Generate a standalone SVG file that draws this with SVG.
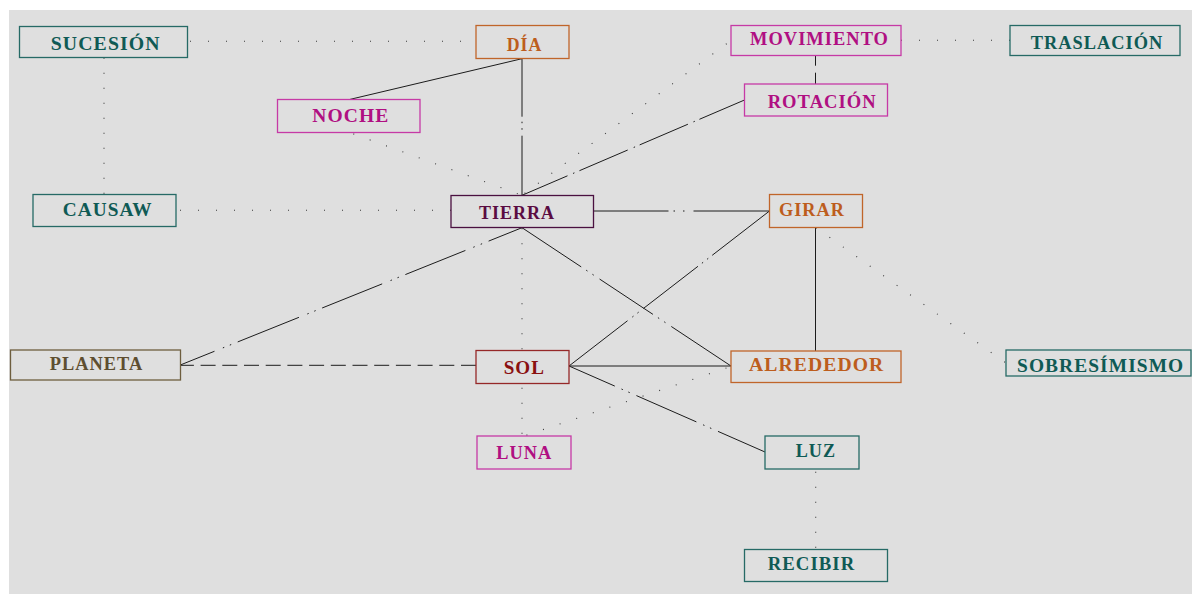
<svg xmlns="http://www.w3.org/2000/svg" width="1192" height="594" viewBox="0 0 1192 594">
<style>
.bg{fill:#dfdfdf}
.box{fill:none;stroke-width:1.3}
.lbl{font-family:"Liberation Serif","Times New Roman",serif;font-size:18px;font-weight:bold;letter-spacing:1px}
.teal rect{stroke:#266a66}.teal text{fill:#0f5a55}
.orng rect{stroke:#c0652a}.orng text{fill:#bd5d1d}
.mag rect{stroke:#c63aa6}.mag text{fill:#b00f82}
.tierra rect{stroke:#4a1040}.tierra text{fill:#5a0c42}
.sol rect{stroke:#962828}.sol text{fill:#8a1010}
.plan rect{stroke:#6e5e3e}.plan text{fill:#5e4e30}
.ln{fill:none;stroke:#1c1c1c;stroke-width:1}
.dot{fill:none;stroke:#3a3a3a;stroke-width:1.1}
</style>
<rect class="bg" x="9" y="10" width="1183" height="584"/>

<g id="connectors">
  <!-- dotted -->
  <line class="dot" x1="188" y1="41.3" x2="476" y2="41.3" stroke-dasharray="1 17" stroke-dashoffset="16"/>
  <line class="dot" x1="104" y1="57.7" x2="104" y2="194.3" stroke-dasharray="1 14"/>
  <line class="dot" x1="176" y1="210.3" x2="451" y2="210.3" stroke-dasharray="1 17" stroke-dashoffset="14"/>
  <line class="dot" x1="349" y1="132.3" x2="522" y2="195.3" stroke-dasharray="1 16.4" stroke-dashoffset="12.8"/>
  <line class="dot" x1="731" y1="40.5" x2="522" y2="195.3" stroke-dasharray="1 15.7" stroke-dashoffset="11.3"/>
  <line class="dot" x1="901" y1="40.3" x2="1010" y2="40.3" stroke-dasharray="1 17"/>
  <line class="dot" x1="522" y1="228.3" x2="522" y2="350" stroke-dasharray="1 14"/>
  <line class="dot" x1="522" y1="387.7" x2="522" y2="436" stroke-dasharray="1 14"/>
  <line class="dot" x1="731" y1="366.5" x2="524" y2="436" stroke-dasharray="1 16.5" stroke-dashoffset="12.7"/>
  <line class="dot" x1="816" y1="227.7" x2="1006" y2="363" stroke-dasharray="1 15.5"/>
  <line class="dot" x1="815.7" y1="471.7" x2="815.7" y2="549.5" stroke-dasharray="1 14"/>
  <!-- solid -->
  <line class="ln" x1="349.5" y1="99.5" x2="522" y2="58.7"/>
  <line class="ln" x1="815.5" y1="227.7" x2="815.5" y2="351"/>
  <line class="ln" x1="569" y1="366" x2="731" y2="366"/>
  <!-- dashed -->
  <line class="ln" x1="815.5" y1="55.7" x2="815.5" y2="84" stroke-dasharray="10 7 30"/>
  <line class="ln" x1="476" y1="365.3" x2="180.3" y2="365.3" stroke-dasharray="15 6.7"/>
  <!-- dash-dot-dot -->
  <line class="ln" x1="522" y1="58.7" x2="522" y2="195.3" stroke-dasharray="58 5 1.5 5 1.5 6 200"/>
  <line class="ln" x1="593.5" y1="211" x2="769.5" y2="211" stroke-dasharray="75 5 1.5 8 1.5 9 200"/>
  <line class="ln" x1="522" y1="195.3" x2="744.5" y2="100" stroke-dasharray="49.5 6 1.5 5.5 52.5 6.5 1.5 5 52.5 6 1.5 5 200"/>
  <line class="ln" x1="522" y1="227.7" x2="180.3" y2="365" stroke-dasharray="36 7 1.5 6.5 1.5 8.5 64.7 7 1.5 6 1.5 9 64.7 7 1.5 6 1.5 9 66 7 1.5 6 1.5 9 80"/>
  <line class="ln" x1="522" y1="227.7" x2="731" y2="366" stroke-dasharray="71 6 1.5 6 1.5 7 64 6 1.5 6 1.5 7 200"/>
  <line class="ln" x1="569" y1="366" x2="769.5" y2="211" stroke-dasharray="74 6 1.5 5 1.5 6 69 5 1.5 5 1.5 5 200"/>
  <line class="ln" x1="569" y1="366" x2="765" y2="452" stroke-dasharray="50 7.3 1.5 6 1.5 7.3 65.5 7.3 1.5 6 1.5 7.3 200"/>
</g>

<g id="n-sucesion" class="teal"><rect class="box" x="19.5" y="26.5" width="168" height="31"/><text class="lbl" x="50.7" y="50" textLength="110" lengthAdjust="spacingAndGlyphs">SUCESIÓN</text></g>
<g id="n-causaw" class="teal"><rect class="box" x="33" y="194.5" width="143" height="32"/><text class="lbl" x="62.7" y="216" textLength="90" lengthAdjust="spacingAndGlyphs">CAUSAW</text></g>
<g id="n-noche" class="mag"><rect class="box" x="277.5" y="99.5" width="142.5" height="33"/><text class="lbl" x="312.3" y="122.3" textLength="77" lengthAdjust="spacingAndGlyphs">NOCHE</text></g>
<g id="n-dia" class="orng"><rect class="box" x="476" y="25.5" width="93" height="33"/><text class="lbl" x="506.7" y="50.7" textLength="35.6" lengthAdjust="spacingAndGlyphs">DÍA</text></g>
<g id="n-movimiento" class="mag"><rect class="box" x="731" y="25.5" width="170" height="30"/><text class="lbl" x="750" y="45.3" textLength="139" lengthAdjust="spacingAndGlyphs">MOVIMIENTO</text></g>
<g id="n-traslacion" class="teal"><rect class="box" x="1010" y="25.5" width="170" height="30"/><text class="lbl" x="1030.7" y="48.7" textLength="132.6" lengthAdjust="spacingAndGlyphs">TRASLACIÓN</text></g>
<g id="n-rotacion" class="mag"><rect class="box" x="744.5" y="84" width="143" height="32"/><text class="lbl" x="767.7" y="108.3" textLength="109" lengthAdjust="spacingAndGlyphs">ROTACIÓN</text></g>
<g id="n-tierra" class="tierra"><rect class="box" x="451" y="195.5" width="142.5" height="32"/><text class="lbl" x="479" y="219" textLength="76" lengthAdjust="spacingAndGlyphs">TIERRA</text></g>
<g id="n-girar" class="orng"><rect class="box" x="769.5" y="194.5" width="93" height="33"/><text class="lbl" x="779" y="215.7" textLength="66" lengthAdjust="spacingAndGlyphs">GIRAR</text></g>
<g id="n-planeta" class="plan"><rect class="box" x="10.5" y="350" width="170" height="30"/><text class="lbl" x="49.7" y="370.3" textLength="93.6" lengthAdjust="spacingAndGlyphs">PLANETA</text></g>
<g id="n-sol" class="sol"><rect class="box" x="476" y="350.5" width="93" height="33"/><text class="lbl" x="503.7" y="374.3" textLength="41.3" lengthAdjust="spacingAndGlyphs">SOL</text></g>
<g id="n-alrededor" class="orng"><rect class="box" x="731" y="351" width="170" height="31.5"/><text class="lbl" x="749" y="370.7" textLength="135.3" lengthAdjust="spacingAndGlyphs">ALREDEDOR</text></g>
<g id="n-sobresimismo" class="teal"><rect class="box" x="1006" y="350" width="185" height="26"/><text class="lbl" x="1017" y="372.3" textLength="167.3" lengthAdjust="spacingAndGlyphs">SOBRESÍMISMO</text></g>
<g id="n-luna" class="mag"><rect class="box" x="477" y="436" width="94" height="33"/><text class="lbl" x="496.3" y="459.3" textLength="56" lengthAdjust="spacingAndGlyphs">LUNA</text></g>
<g id="n-luz" class="teal"><rect class="box" x="765" y="436" width="94" height="33"/><text class="lbl" x="795.7" y="457.3" textLength="40.3" lengthAdjust="spacingAndGlyphs">LUZ</text></g>
<g id="n-recibir" class="teal"><rect class="box" x="744.5" y="549.5" width="143" height="32"/><text class="lbl" x="767.7" y="570.3" textLength="87.6" lengthAdjust="spacingAndGlyphs">RECIBIR</text></g>
</svg>
